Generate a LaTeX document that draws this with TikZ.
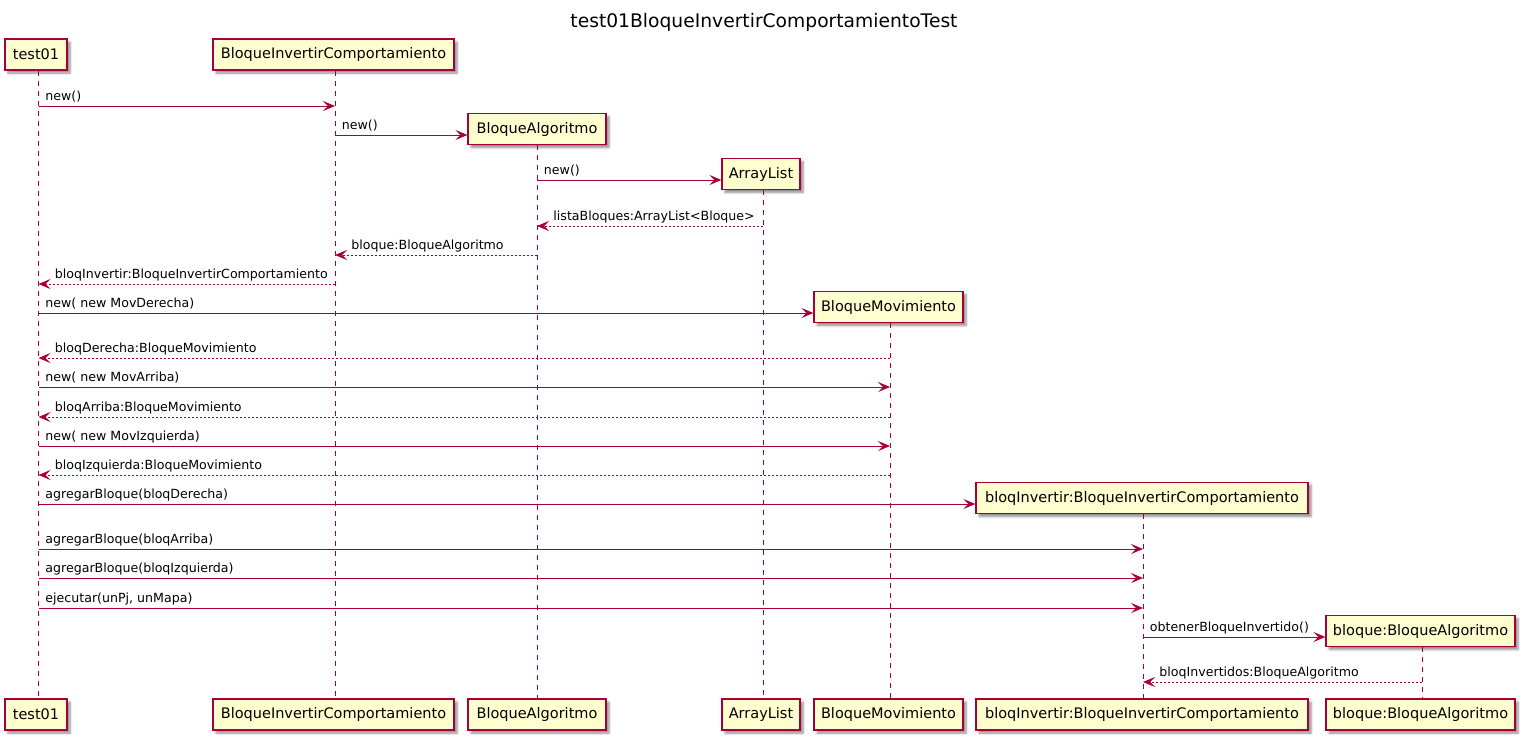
\documentclass[tikz,border=0pt]{standalone}
\usepackage{fontspec}
\setmainfont{DejaVu Sans}
\usetikzlibrary{arrows.meta,shadows.blur}
\definecolor{pred}{HTML}{A80036}
\definecolor{pfill}{HTML}{FEFECE}
\tikzset{
 part/.style={draw=pred, fill=pfill, line width=1.2pt, minimum height=31pt, inner sep=0pt,
   font=\fontsize{14.5}{16}\selectfont,
   blur shadow={shadow xshift=3pt, shadow yshift=-3pt, shadow blur steps=6, shadow opacity=45}},
 life/.style={draw=pred, line width=0.9pt, dash pattern=on 5pt off 5pt},
 msg/.style={draw=pred, line width=0.9pt, -{Stealth[length=12pt,width=10pt,inset=5pt]}},
 ret/.style={msg, dash pattern=on 2pt off 2pt},
 lbl/.style={anchor=base west, inner sep=0pt, yshift=5.5pt, font=\fontsize{12.6}{14}\selectfont, text=black},
 rl/.style={lbl, pos=0, xshift=6.5pt},
 ll/.style={lbl, pos=1, xshift=16pt},
}
\begin{document}
\begin{tikzpicture}[x=1pt,y=-1pt]
\useasboundingbox (0,0) rectangle (1528,742);
\node[font=\fontsize{18.7}{20}\selectfont] (title) at (764,22) {test01BloqueInvertirComportamientoTest};

% lifeline x positions
\coordinate (l1) at (38.5,0);
\coordinate (l2) at (335,0);
\coordinate (l3) at (537,0);
\coordinate (l4) at (763,0);
\coordinate (l5) at (890,0);
\coordinate (l6) at (1143,0);
\coordinate (l7) at (1422,0);

% top participants
\node[part, minimum width=62pt] (t1) at (36,54.5) {test01};
\node[part, minimum width=241pt] (t2) at (333.5,54.5) {BloqueInvertirComportamiento};
% created participants
\node[part, minimum width=138pt] (c3) at (537,129) {BloqueAlgoritmo};
\node[part, minimum width=78pt] (c4) at (761,174) {ArrayList};
\node[part, minimum width=149pt] (c5) at (888.5,307) {BloqueMovimiento};
\node[part, minimum width=332pt] (c6) at (1142,498) {bloqInvertir:BloqueInvertirComportamiento};
\node[part, minimum width=189pt] (c7) at (1420.5,631) {bloque:BloqueAlgoritmo};
% bottom participants
\node[part, minimum width=62pt] (b1) at (36,714.5) {test01};
\node[part, minimum width=241pt] (b2) at (333.5,714.5) {BloqueInvertirComportamiento};
\node[part, minimum width=138pt] (b3) at (537,714.5) {BloqueAlgoritmo};
\node[part, minimum width=78pt] (b4) at (761,714.5) {ArrayList};
\node[part, minimum width=149pt] (b5) at (888.5,714.5) {BloqueMovimiento};
\node[part, minimum width=332pt] (b6) at (1142,714.5) {bloqInvertir:BloqueInvertirComportamiento};
\node[part, minimum width=189pt] (b7) at (1420.5,714.5) {bloque:BloqueAlgoritmo};

% lifelines
\draw[life] (l1 |- t1.south) -- (l1 |- b1.north);
\draw[life] (l2 |- t2.south) -- (l2 |- b2.north);
\draw[life] (l3 |- c3.south) -- (l3 |- b3.north);
\draw[life] (l4 |- c4.south) -- (l4 |- b4.north);
\draw[life] (l5 |- c5.south) -- (l5 |- b5.north);
\draw[life] (l6 |- c6.south) -- (l6 |- b6.north);
\draw[life] (l7 |- c7.south) -- (l7 |- b7.north);

% messages
\draw[msg] (l1 |- 0,106) -- (l2 |- 0,106) node[rl] {new()};
\draw[msg] (l2 |- 0,135) -- (c3.west |- 0,135) node[rl] {new()};
\draw[msg] (l3 |- 0,180) -- (c4.west |- 0,180) node[rl] {new()};
\draw[ret] (l4 |- 0,226) -- (l3 |- 0,226) node[ll] {listaBloques:ArrayList<Bloque>};
\draw[ret] (l3 |- 0,255) -- (l2 |- 0,255) node[ll] {bloque:BloqueAlgoritmo};
\draw[ret] (l2 |- 0,284) -- (l1 |- 0,284) node[ll] {bloqInvertir:BloqueInvertirComportamiento};
\draw[msg] (l1 |- 0,313) -- (c5.west |- 0,313) node[rl] {new( new MovDerecha)};
\draw[ret] (l5 |- 0,358) -- (l1 |- 0,358) node[ll] {bloqDerecha:BloqueMovimiento};
\draw[msg] (l1 |- 0,387) -- (l5 |- 0,387) node[rl] {new( new MovArriba)};
\draw[ret] (l5 |- 0,417) -- (l1 |- 0,417) node[ll] {bloqArriba:BloqueMovimiento};
\draw[msg] (l1 |- 0,446) -- (l5 |- 0,446) node[rl] {new( new MovIzquierda)};
\draw[ret] (l5 |- 0,475) -- (l1 |- 0,475) node[ll] {bloqIzquierda:BloqueMovimiento};
\draw[msg] (l1 |- 0,504) -- (c6.west |- 0,504) node[rl] {agregarBloque(bloqDerecha)};
\draw[msg] (l1 |- 0,549) -- (l6 |- 0,549) node[rl] {agregarBloque(bloqArriba)};
\draw[msg] (l1 |- 0,578) -- (l6 |- 0,578) node[rl] {agregarBloque(bloqIzquierda)};
\draw[msg] (l1 |- 0,608) -- (l6 |- 0,608) node[rl] {ejecutar(unPj, unMapa)};
\draw[msg] (l6 |- 0,637) -- (c7.west |- 0,637) node[rl] {obtenerBloqueInvertido()};
\draw[ret] (l7 |- 0,682) -- (l6 |- 0,682) node[ll] {bloqInvertidos:BloqueAlgoritmo};
\end{tikzpicture}
\end{document}
